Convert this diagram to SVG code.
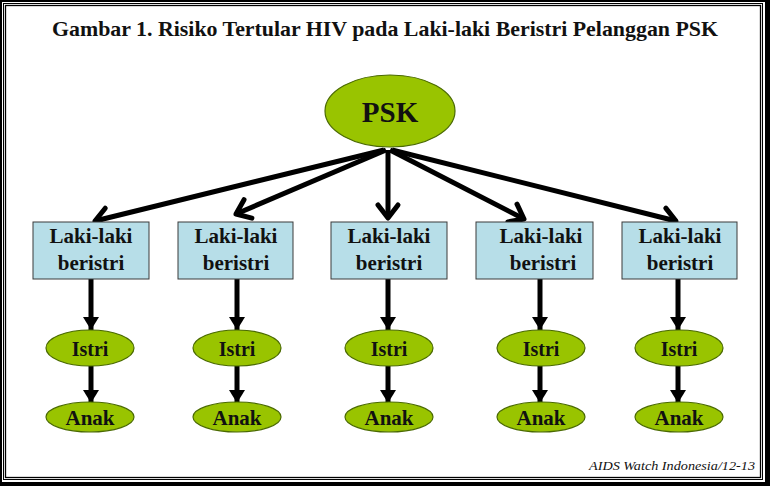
<svg xmlns="http://www.w3.org/2000/svg" width="770" height="486" viewBox="0 0 770 486">
<defs>
<style>
.t{font-family:'Liberation Serif','DejaVu Serif',serif;font-weight:bold;fill:#111;text-anchor:middle}
.box{fill:#b7dee8;stroke:#3a3a3a;stroke-width:1}
.el{fill:#99c400;stroke:#4a6a00;stroke-width:1.2}
.big{stroke:#000;stroke-width:5;fill:none;marker-end:url(#open)}
.small{stroke:#000;stroke-width:5;fill:none;marker-end:url(#solid)}
.foot{font-family:'Liberation Serif','DejaVu Serif',serif;font-style:italic;fill:#111;text-anchor:end}
</style>
<marker id="open" markerUnits="userSpaceOnUse" viewBox="-16 -13 20 26" refX="0" refY="0" markerWidth="20" markerHeight="26" orient="auto" overflow="visible">
<path d="M-13,-10 L0,0 L-13,10" fill="none" stroke="#000" stroke-width="5" stroke-linecap="round" stroke-linejoin="round"/>
</marker>
<marker id="solid" markerUnits="userSpaceOnUse" viewBox="0 -9 13 18" refX="13" refY="0" markerWidth="13" markerHeight="18" orient="auto">
<path d="M0,-8 L13,0 L0,8 Z" fill="#000"/>
</marker>
</defs>
<rect width="770" height="486" fill="#fff"/>
<g id="frame" fill="none" stroke="#000">
<rect x="1" y="1" width="766" height="482" stroke-width="2"/>
<rect x="3.5" y="3.5" width="759" height="476" stroke-width="1"/>
<rect x="5.5" y="5.5" width="755" height="472" stroke-width="1.3"/>
<rect x="765" y="0" width="5" height="486" fill="#000" stroke="none"/>
<rect x="0" y="483" width="770" height="3" fill="#000" stroke="none"/>
</g>
<text class="t" x="385" y="36" font-size="21" textLength="666" lengthAdjust="spacingAndGlyphs">Gambar 1. Risiko Tertular HIV pada Laki-laki Beristri Pelanggan PSK</text>
<g id="connectors">
<line class="big" x1="384" y1="150" x2="95" y2="221"/>
<line class="big" x1="386" y1="150" x2="236" y2="214"/>
<line class="big" x1="388" y1="150" x2="388" y2="218"/>
<line class="big" x1="390" y1="150" x2="524" y2="219"/>
<line class="big" x1="392" y1="150" x2="676" y2="221"/>
<line class="small" x1="91" y1="279" x2="91" y2="330"/>
<line class="small" x1="237" y1="279" x2="237" y2="330"/>
<line class="small" x1="388" y1="279" x2="388" y2="330"/>
<line class="small" x1="540" y1="279" x2="540" y2="330"/>
<line class="small" x1="678" y1="279" x2="678" y2="330"/>
<line class="small" x1="91" y1="366" x2="91" y2="403"/>
<line class="small" x1="237" y1="366" x2="237" y2="403"/>
<line class="small" x1="388" y1="366" x2="388" y2="403"/>
<line class="small" x1="540" y1="366" x2="540" y2="403"/>
<line class="small" x1="678" y1="366" x2="678" y2="403"/>
</g>
<g id="psk"><ellipse class="el" cx="390" cy="111" rx="65" ry="36"/><text class="t" x="390" y="122" font-size="29">PSK</text></g>
<g id="lk1"><rect class="box" x="33" y="222" width="116" height="57"/><text class="t" x="91" y="243" font-size="21">Laki-laki</text><text class="t" x="91" y="270" font-size="21">beristri</text></g>
<g id="lk2"><rect class="box" x="178" y="222" width="115" height="57"/><text class="t" x="236" y="243" font-size="21">Laki-laki</text><text class="t" x="236" y="270" font-size="21">beristri</text></g>
<g id="lk3"><rect class="box" x="331" y="222" width="116" height="57"/><text class="t" x="389" y="243" font-size="21">Laki-laki</text><text class="t" x="389" y="270" font-size="21">beristri</text></g>
<g id="lk4"><rect class="box" x="476" y="222" width="117" height="57"/><text class="t" x="541" y="243" font-size="21">Laki-laki</text><text class="t" x="543" y="270" font-size="21">beristri</text></g>
<g id="lk5"><rect class="box" x="622" y="222" width="115" height="57"/><text class="t" x="680" y="243" font-size="21">Laki-laki</text><text class="t" x="680" y="270" font-size="21">beristri</text></g>
<g id="istri1"><ellipse class="el" cx="90" cy="348" rx="44" ry="18"/><text class="t" x="90" y="356" font-size="20">Istri</text></g>
<g id="istri2"><ellipse class="el" cx="237" cy="348" rx="44" ry="18"/><text class="t" x="237" y="356" font-size="20">Istri</text></g>
<g id="istri3"><ellipse class="el" cx="389" cy="348" rx="44" ry="18"/><text class="t" x="389" y="356" font-size="20">Istri</text></g>
<g id="istri4"><ellipse class="el" cx="541" cy="348" rx="44" ry="18"/><text class="t" x="541" y="356" font-size="20">Istri</text></g>
<g id="istri5"><ellipse class="el" cx="679" cy="348" rx="44" ry="18"/><text class="t" x="679" y="356" font-size="20">Istri</text></g>
<g id="anak1"><ellipse class="el" cx="90" cy="417" rx="44" ry="15"/><text class="t" x="90" y="425" font-size="21">Anak</text></g>
<g id="anak2"><ellipse class="el" cx="237" cy="417" rx="44" ry="15"/><text class="t" x="237" y="425" font-size="21">Anak</text></g>
<g id="anak3"><ellipse class="el" cx="389" cy="417" rx="44" ry="15"/><text class="t" x="389" y="425" font-size="21">Anak</text></g>
<g id="anak4"><ellipse class="el" cx="541" cy="417" rx="44" ry="15"/><text class="t" x="541" y="425" font-size="21">Anak</text></g>
<g id="anak5"><ellipse class="el" cx="679" cy="417" rx="44" ry="15"/><text class="t" x="679" y="425" font-size="21">Anak</text></g>
<text class="foot" x="755" y="470" font-size="13" textLength="166" lengthAdjust="spacingAndGlyphs">AIDS Watch Indonesia/12-13</text>
</svg>
